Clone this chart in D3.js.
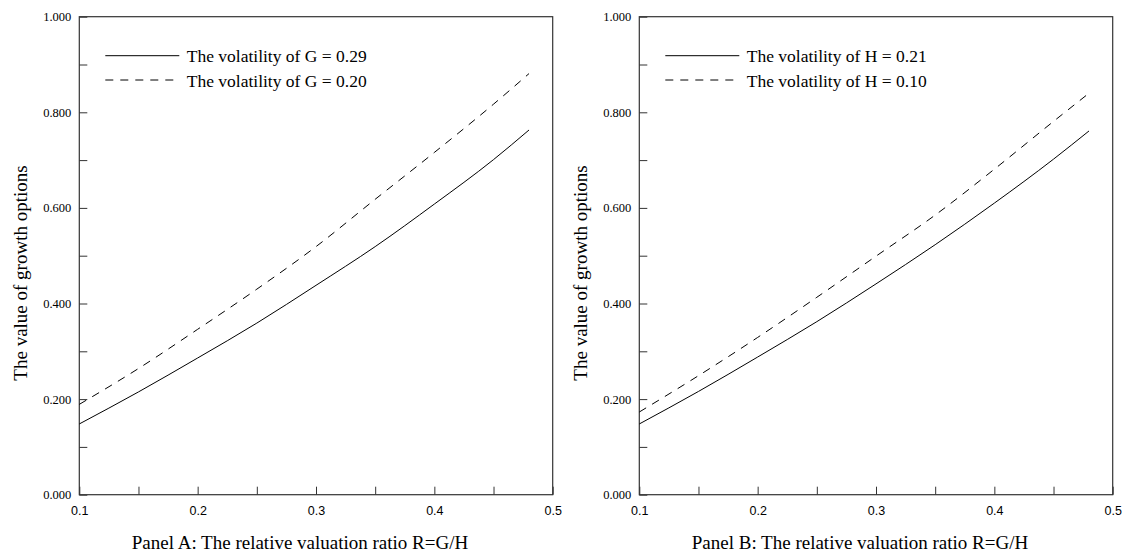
<!DOCTYPE html>
<html>
<head>
<meta charset="utf-8">
<script src="https://cdn.jsdelivr.net/npm/d3@7"></script>
<style>
  body { margin: 0; background: #fff; }
  svg { display: block; }
</style>
</head>
<body>
<div id="chart"></div>
<script>
// relative valuation ratio R = G/H
var ratio = [0.10, 0.15, 0.20, 0.25, 0.30, 0.35, 0.40, 0.45, 0.48];

// panel A: volatility of G
var panelASolid  = [0.148, 0.215, 0.286, 0.359, 0.438, 0.519, 0.608, 0.701, 0.763];
var panelADashed = [0.189, 0.264, 0.346, 0.430, 0.519, 0.618, 0.716, 0.817, 0.881];
var panelALegend = ['The volatility of G = 0.29', 'The volatility of G = 0.20'];
var panelACaption = 'Panel A: The relative valuation ratio R=G/H';

// panel B: volatility of H
var panelBSolid  = [0.148, 0.216, 0.288, 0.362, 0.441, 0.523, 0.610, 0.702, 0.761];
var panelBDashed = [0.173, 0.249, 0.329, 0.413, 0.499, 0.585, 0.681, 0.781, 0.840];
var panelBLegend = ['The volatility of H = 0.21', 'The volatility of H = 0.10'];
var panelBCaption = 'Panel B: The relative valuation ratio R=G/H';

// ticks
var xTicks = [0.1, 0.15, 0.2, 0.25, 0.3, 0.35, 0.4, 0.45, 0.5];
var xLabels = ['0.1', '', '0.2', '', '0.3', '', '0.4', '', '0.5'];
var yTicks = [0, 0.1, 0.2, 0.3, 0.4, 0.5, 0.6, 0.7, 0.8, 0.9, 1.0];
var yLabels = ['0.000', '', '0.200', '', '0.400', '', '0.600', '', '0.800', '', '1.000'];
var yTitle = 'The value of growth options';

(function () {
    var W = 1123, H = 557;
    var plotW = 473.4, plotH = 478;
    var plotTop = 16.7;
    var serif = '"Liberation Serif", "Times New Roman", serif';
    var sans = '"Liberation Sans", Arial, sans-serif';

    var svg = d3.select('#chart')
        .append('svg')
            .attr('width', W)
            .attr('height', H);

    function drawPanel(left, solid, dashed, legend, caption) {
        var g = svg.append('g')
            .attr('transform', 'translate(' + left + ',' + plotTop + ')');

        var x = d3.scaleLinear().domain([0.1, 0.5]).range([0, plotW]);
        var y = d3.scaleLinear().domain([0, 1]).range([plotH, 0]);

        // x axis, ticks point inward
        var xAxis = g.append('g')
            .attr('transform', 'translate(0,' + plotH + ')')
            .call(d3.axisBottom(x)
                .tickValues(xTicks)
                .tickFormat(function (d, i) { return xLabels[i]; })
                .tickSize(-8)
                .tickSizeOuter(0)
                .tickPadding(11));
        xAxis.selectAll('text')
            .style('font-family', sans)
            .style('font-size', '12.5px')
            .attr('fill', '#000');

        // y axis
        var yAxis = g.append('g')
            .call(d3.axisLeft(y)
                .tickValues(yTicks)
                .tickFormat(function (d, i) { return yLabels[i]; })
                .tickSize(-8)
                .tickSizeOuter(0)
                .tickPadding(8));
        yAxis.selectAll('text')
            .style('font-family', serif)
            .style('font-size', '12.5px')
            .attr('fill', '#000');

        g.selectAll('.domain').remove();
        g.selectAll('.tick line').attr('stroke', '#333');

        // frame
        g.append('rect')
            .attr('x', 0)
            .attr('y', 0)
            .attr('width', plotW)
            .attr('height', plotH)
            .attr('fill', 'none')
            .attr('stroke', '#333')
            .attr('stroke-width', 1.2);

        var line = d3.line()
            .x(function (d, i) { return x(ratio[i]); })
            .y(function (d) { return y(d); })
            .curve(d3.curveMonotoneX);

        g.append('path')
            .datum(solid)
            .attr('d', line)
            .attr('fill', 'none')
            .attr('stroke', '#000')
            .attr('stroke-width', 1);

        g.append('path')
            .datum(dashed)
            .attr('d', line)
            .attr('fill', 'none')
            .attr('stroke', '#000')
            .attr('stroke-width', 1)
            .attr('stroke-dasharray', '8,7');

        // legend
        var styles = [null, '8,7'];
        legend.forEach(function (label, i) {
            var ly = 39 + i * 24.3;
            g.append('line')
                .attr('x1', 26)
                .attr('x2', 100)
                .attr('y1', ly)
                .attr('y2', ly)
                .attr('stroke', '#000')
                .attr('stroke-width', 1)
                .attr('stroke-dasharray', styles[i]);
            g.append('text')
                .attr('x', 107.4)
                .attr('y', ly + 6.6)
                .style('font-family', serif)
                .style('font-size', '17.5px')
                .text(label);
        });

        // y title
        g.append('text')
            .attr('transform', 'translate(' + (-52) + ',' + (273 - plotTop) + ') rotate(-90)')
            .attr('text-anchor', 'middle')
            .style('font-family', serif)
            .style('font-size', '19px')
            .text(yTitle);

        // caption
        g.append('text')
            .attr('x', 300 - 79.3)
            .attr('y', 549.3 - plotTop)
            .attr('text-anchor', 'middle')
            .style('font-family', serif)
            .style('font-size', '19px')
            .text(caption);
    }

    drawPanel(79.3, panelASolid, panelADashed, panelALegend, panelACaption);
    drawPanel(639.3, panelBSolid, panelBDashed, panelBLegend, panelBCaption);
})();
</script>
</body>
</html>
